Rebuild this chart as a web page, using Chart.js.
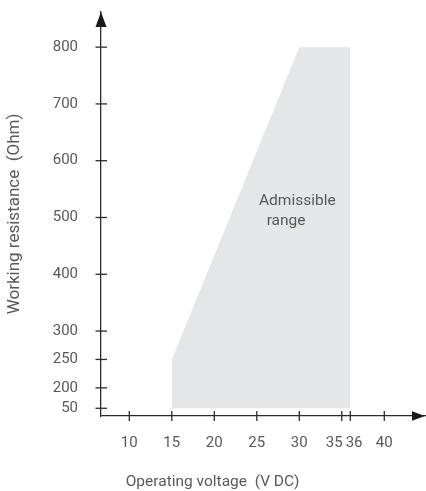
<!DOCTYPE html>
<html><head><meta charset="utf-8">
<script src="https://cdn.jsdelivr.net/npm/chart.js@4"></script>
<style>html,body{margin:0;padding:0;background:#fff}</style>
</head><body>
<canvas id="c" width="426" height="491"></canvas>
<script>
// ---- data ----
const xTickValues = [10, 15, 20, 25, 30, 35, 36, 40];
const xTickLabels = ['10', '15', '20', '25', '30', '35\u2002\u2002', '\u200236', '40'];
const yTickValues = [50, 200, 250, 300, 400, 500, 600, 700, 800];
const rangeVoltage = [15, 30, 36];        // upper boundary of admissible range
const rangeResistance = [250, 800, 800];
const rangeFloor = 50;

// broken y axis: values below 200 are compressed
function yPos(v) { return v >= 200 ? v : 200 - (200 - v) * 0.24; }

const FONT = 'Roboto, "Liberation Sans", sans-serif';
const TEXT = '#58595b';
const AXIS = '#2b2b2b';

const overlay = {
  id: 'overlay',
  afterDraw(chart) {
    const { ctx, chartArea: a, scales: { x, y } } = chart;
    ctx.save();
    ctx.strokeStyle = AXIS; ctx.lineWidth = 1.3;
    yTickValues.forEach(v => {
      const p = y.getPixelForValue(yPos(v));
      ctx.beginPath(); ctx.moveTo(a.left - 5.5, p); ctx.lineTo(a.left + 6, p); ctx.stroke();
    });
    xTickValues.forEach(v => {
      const p = x.getPixelForValue(v);
      ctx.beginPath(); ctx.moveTo(p, a.bottom - 5); ctx.lineTo(p, a.bottom + 5); ctx.stroke();
    });
    ctx.fillStyle = '#1a1a1a';
    ctx.beginPath(); ctx.moveTo(a.left, a.top); ctx.lineTo(a.left - 5.5, a.top + 15); ctx.lineTo(a.left + 5.5, a.top + 15); ctx.closePath(); ctx.fill();
    ctx.beginPath(); ctx.moveTo(a.right, a.bottom); ctx.lineTo(a.right - 13, a.bottom - 4.8); ctx.lineTo(a.right - 13, a.bottom + 4.8); ctx.closePath(); ctx.fill();
    ctx.fillStyle = TEXT; ctx.font = '15.5px ' + FONT; ctx.textAlign = 'left'; ctx.textBaseline = 'middle';
    ctx.fillText('Admissible', x.getPixelForValue(25.26), y.getPixelForValue(529));
    ctx.fillText('range', x.getPixelForValue(26.16), y.getPixelForValue(494));
    ctx.restore();
  }
};

new Chart(document.getElementById('c'), {
  type: 'line',
  data: {
    datasets: [{
      data: rangeVoltage.map((v, i) => ({ x: v, y: rangeResistance[i] })),
      parsing: false,
      borderWidth: 0,
      pointRadius: 0,
      tension: 0,
      backgroundColor: '#e5e6e8',
      fill: { value: yPos(rangeFloor) }
    }]
  },
  options: {
    responsive: false,
    animation: false,
    layout: { padding: { top: 12, right: 1, left: 0, bottom: 0 } },
    plugins: {
      legend: { display: false },
      tooltip: { enabled: false },
      title: {
        display: true, position: 'bottom', text: 'Operating voltage  (V DC)',
        color: TEXT, font: { family: FONT, size: 15.5, weight: 'normal' },
        padding: { top: 2, bottom: 0 }
      }
    },
    scales: {
      x: {
        type: 'linear', min: 6.67, max: 44.79,
        grid: { display: false, drawTicks: false },
        border: { display: true, color: AXIS, width: 1.3 },
        afterBuildTicks: s => { s.ticks = xTickValues.map(v => ({ value: v })); },
        afterFit: s => { s.height = 54.4; s.paddingLeft = 0; s.paddingRight = 0; },
        ticks: {
          autoSkip: false, maxRotation: 0, padding: 18, color: TEXT,
          font: { family: FONT, size: 15 },
          callback: (v, i) => xTickLabels[i]
        }
      },
      y: {
        type: 'linear', min: 150.4, max: 861.9,
        grid: { display: false, drawTicks: false },
        border: { display: true, color: AXIS, width: 1.3 },
        afterBuildTicks: s => { s.ticks = yTickValues.map(v => ({ value: yPos(v) })); },
        afterFit: s => { s.width = 101; s.paddingTop = 0; s.paddingBottom = 0; },
        ticks: {
          autoSkip: false, padding: 23, color: TEXT,
          font: { family: FONT, size: 15 },
          callback: (v, i) => String(yTickValues[i])
        },
        title: {
          display: true, text: 'Working resistance  (Ohm)', color: TEXT,
          font: { family: FONT, size: 17 }, padding: { top: 5, bottom: 0 }
        }
      }
    }
  },
  plugins: [overlay]
});
</script>
</body></html>
